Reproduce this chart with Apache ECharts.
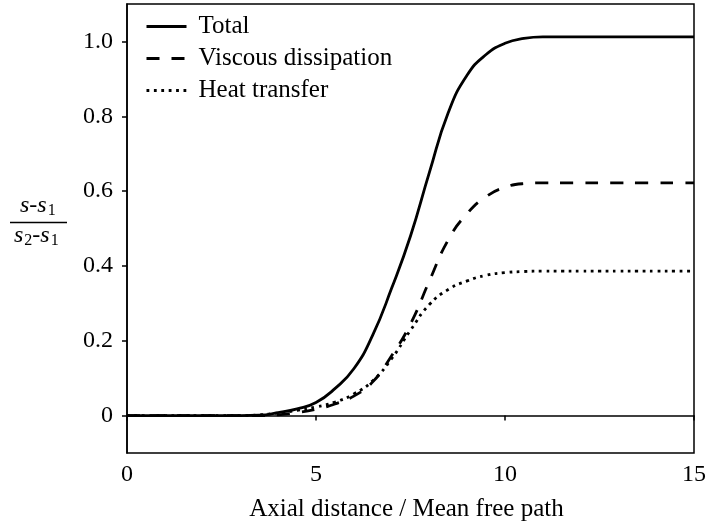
<!DOCTYPE html>
<html><head><meta charset="utf-8">
<script src="https://cdn.jsdelivr.net/npm/echarts@6/dist/echarts.min.js"></script>
<style>html,body{margin:0;padding:0;background:#fff}#c{width:709px;height:530px}</style>
</head><body><div id="c"></div>
<script>
var xValues = [0, 0.5, 1, 1.5, 2, 2.5, 3, 3.5, 4, 4.5, 5, 5.5, 6, 6.5, 7, 7.5, 8, 8.5, 9, 9.5, 10, 10.5, 11, 11.5, 12, 12.5, 13, 13.5, 14, 14.5, 15];
var total   = [0, 0, 0, 0, 0, 0, 0, 0.001, 0.008, 0.018, 0.035, 0.072, 0.125, 0.215, 0.34, 0.48, 0.65, 0.81, 0.91, 0.965, 0.995, 1.008, 1.012, 1.012, 1.012, 1.012, 1.012, 1.012, 1.012, 1.012, 1.012];
var viscous = [0, 0, 0, 0, 0, 0, 0, 0, 0.002, 0.008, 0.017, 0.031, 0.052, 0.09, 0.16, 0.245, 0.36, 0.47, 0.54, 0.585, 0.61, 0.62, 0.622, 0.622, 0.622, 0.622, 0.622, 0.622, 0.622, 0.622, 0.622];
var heat    = [0, 0, 0, 0, 0, 0, 0, 0.002, 0.007, 0.014, 0.023, 0.036, 0.058, 0.093, 0.152, 0.228, 0.297, 0.337, 0.36, 0.375, 0.382, 0.385, 0.386, 0.386, 0.386, 0.386, 0.386, 0.386, 0.386, 0.386, 0.386];
var yTicks = [0, 0.2, 0.4, 0.6, 0.8, 1.0];
var seriesNames = ['Total', 'Viscous dissipation', 'Heat transfer'];

function pairs(ys){ return xValues.map(function(x,i){ return [x, ys[i]]; }); }
var FONT = 'Liberation Serif';
var FS = 24;
var chart = echarts.init(document.getElementById('c'));
var fracRich = {
  i: { fontFamily: FONT, fontStyle: 'italic', fontSize: FS, fill: '#000' },
  n: { fontFamily: FONT, fontSize: FS, fill: '#000' },
  sub: { fontFamily: FONT, fontSize: 16, fill: '#000', padding: [9, 0, 0, 1] }
};
chart.setOption({
  animation: false,
  backgroundColor: '#fff',
  grid: { left: 127, right: 14, top: 4, bottom: 77, show: true, borderColor: '#000', borderWidth: 1.5, backgroundColor: 'transparent' },
  legend: {
    orient: 'vertical', left: 145, top: 14, padding: 0, itemGap: 7, itemWidth: 40, itemHeight: 14,
    itemStyle: { opacity: 0 },
    lineStyle: { width: 3 },
    textStyle: { fontFamily: FONT, fontSize: 25, color: '#000', padding: [0, 0, 0, 7] },
    data: seriesNames
  },
  xAxis: {
    type: 'value', min: 0, max: 15, interval: 5,
    name: 'Axial distance / Mean free path', nameLocation: 'middle', nameGap: 44,
    nameTextStyle: { fontFamily: FONT, fontSize: 25, color: '#000', padding: [0, 8, 0, 0] },
    axisLine: { lineStyle: { color: '#000', width: 1.5 } },
    axisTick: { show: true, inside: false, length: 5, lineStyle: { color: '#000', width: 1.5 } },
    axisLabel: { fontFamily: FONT, fontSize: FS, color: '#000', margin: 10 },
    splitLine: { show: false }
  },
  yAxis: {
    type: 'value', min: -0.1, max: 1.1,
    axisLine: { show: true, lineStyle: { color: '#000', width: 1.5 } },
    axisTick: { show: true, inside: false, length: 5, customValues: yTicks, lineStyle: { color: '#000', width: 1.5 } },
    axisLabel: { fontFamily: FONT, fontSize: FS, color: '#000', margin: 14, customValues: yTicks,
      formatter: function(v){ return Math.abs(v) < 1e-9 ? '0' : v.toFixed(1); } },
    splitLine: { show: false }
  },
  series: [
    { name: seriesNames[0], type: 'line', data: pairs(total), smooth: 0.5, symbol: 'none',
      lineStyle: { color: '#000', width: 2.8, type: 'solid' }, itemStyle: { color: '#000' } },
    { name: seriesNames[1], type: 'line', data: pairs(viscous), smooth: 0.5, symbol: 'none',
      lineStyle: { color: '#000', width: 2.8, type: [13, 12] }, itemStyle: { color: '#000' } },
    { name: seriesNames[2], type: 'line', data: pairs(heat), smooth: 0.5, symbol: 'none',
      lineStyle: { color: '#000', width: 2.8, type: [2.8, 4.6] }, itemStyle: { color: '#000' } }
  ],
  graphic: [
    { type: 'text', left: 20, top: 194, style: { text: '{i|s}{n|-}{i|s}{sub|1}', rich: fracRich } },
    { type: 'line', shape: { x1: 10, y1: 222.5, x2: 67, y2: 222.5 }, style: { stroke: '#000', lineWidth: 1.3 } },
    { type: 'text', left: 14, top: 224, style: { text: '{i|s}{sub|2}{n|-}{i|s}{sub|1}', rich: fracRich } }
  ]
});
</script></body></html>
